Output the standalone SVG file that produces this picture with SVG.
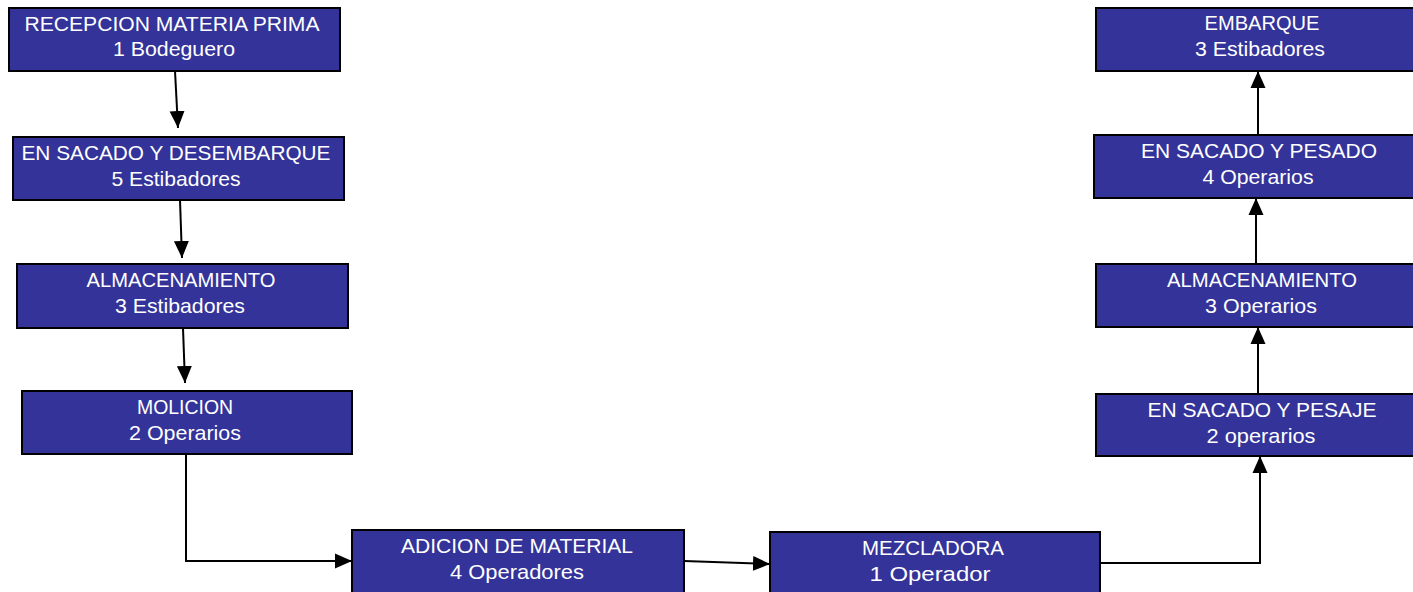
<svg xmlns="http://www.w3.org/2000/svg" width="1413" height="592" viewBox="0 0 1413 592">
<style>
.box{fill:#333399;stroke:#000;stroke-width:2}
.t{font-family:"Liberation Sans",Arial,sans-serif;font-size:21px;fill:#fff;text-anchor:middle}
.c{fill:none;stroke:#000;stroke-width:2}
</style>
<defs>
<marker id="ah" markerUnits="userSpaceOnUse" markerWidth="17" markerHeight="16" viewBox="0 0 17 16" refX="17" refY="8" orient="auto">
<path d="M0,0.5 L17,8 L0,15.5 Z" fill="#000"/>
</marker>
</defs>
<rect width="1413" height="592" fill="#fff"/>
<g id="connectors">
<path class="c" d="M175,71 L178,128" marker-end="url(#ah)"/>
<path class="c" d="M180,200 L182,258" marker-end="url(#ah)"/>
<path class="c" d="M183,328 L185,383" marker-end="url(#ah)"/>
<path class="c" d="M186,454 V561 H352" marker-end="url(#ah)"/>
<path class="c" d="M684,561 L770,564" marker-end="url(#ah)"/>
<path class="c" d="M1100,563 H1260 V456" marker-end="url(#ah)"/>
<path class="c" d="M1258,394 V327" marker-end="url(#ah)"/>
<path class="c" d="M1256,264 V198" marker-end="url(#ah)"/>
<path class="c" d="M1258,135 V71" marker-end="url(#ah)"/>
</g>
<g id="n1"><rect class="box" x="9" y="8" width="331" height="63"/>
<text class="t" x="172" y="31" textLength="295" lengthAdjust="spacingAndGlyphs">RECEPCION  MATERIA  PRIMA</text>
<text class="t" x="174" y="56" textLength="122" lengthAdjust="spacingAndGlyphs">1 Bodeguero</text></g>
<g id="n2"><rect class="box" x="13" y="137" width="331" height="63"/>
<text class="t" x="176" y="160" textLength="309" lengthAdjust="spacingAndGlyphs">EN SACADO Y DESEMBARQUE</text>
<text class="t" x="176" y="186" textLength="129" lengthAdjust="spacingAndGlyphs">5 Estibadores</text></g>
<g id="n3"><rect class="box" x="17" y="264" width="331" height="64"/>
<text class="t" x="181" y="287" textLength="189" lengthAdjust="spacingAndGlyphs">ALMACENAMIENTO</text>
<text class="t" x="180" y="313" textLength="130" lengthAdjust="spacingAndGlyphs">3 Estibadores</text></g>
<g id="n4"><rect class="box" x="22" y="391" width="330" height="63"/>
<text class="t" x="185" y="414" textLength="96" lengthAdjust="spacingAndGlyphs">MOLICION</text>
<text class="t" x="185" y="440" textLength="112" lengthAdjust="spacingAndGlyphs">2 Operarios</text></g>
<g id="n5"><rect class="box" x="352" y="530" width="332" height="66"/>
<text class="t" x="517" y="553" textLength="232" lengthAdjust="spacingAndGlyphs">ADICION  DE  MATERIAL</text>
<text class="t" x="517" y="579" textLength="134" lengthAdjust="spacingAndGlyphs">4 Operadores</text></g>
<g id="n6"><rect class="box" x="770" y="532" width="330" height="64"/>
<text class="t" x="933" y="555" textLength="142" lengthAdjust="spacingAndGlyphs">MEZCLADORA</text>
<text class="t" x="930" y="581" textLength="121" lengthAdjust="spacingAndGlyphs">1 Operador</text></g>
<g id="n7"><rect class="box" x="1096" y="394" width="332" height="62"/>
<text class="t" x="1262" y="417" textLength="229" lengthAdjust="spacingAndGlyphs">EN  SACADO Y PESAJE</text>
<text class="t" x="1261" y="443" textLength="109" lengthAdjust="spacingAndGlyphs">2 operarios</text></g>
<g id="n8"><rect class="box" x="1096" y="264" width="332" height="63"/>
<text class="t" x="1262" y="287" textLength="190" lengthAdjust="spacingAndGlyphs">ALMACENAMIENTO</text>
<text class="t" x="1261" y="313" textLength="112" lengthAdjust="spacingAndGlyphs">3 Operarios</text></g>
<g id="n9"><rect class="box" x="1094" y="135" width="334" height="63"/>
<text class="t" x="1259" y="158" textLength="236" lengthAdjust="spacingAndGlyphs">EN  SACADO Y PESADO</text>
<text class="t" x="1258" y="184" textLength="111" lengthAdjust="spacingAndGlyphs">4 Operarios</text></g>
<g id="n10"><rect class="box" x="1096" y="8" width="332" height="63"/>
<text class="t" x="1262" y="30" textLength="115" lengthAdjust="spacingAndGlyphs">EMBARQUE</text>
<text class="t" x="1260" y="56" textLength="130" lengthAdjust="spacingAndGlyphs">3 Estibadores</text></g>
</svg>
